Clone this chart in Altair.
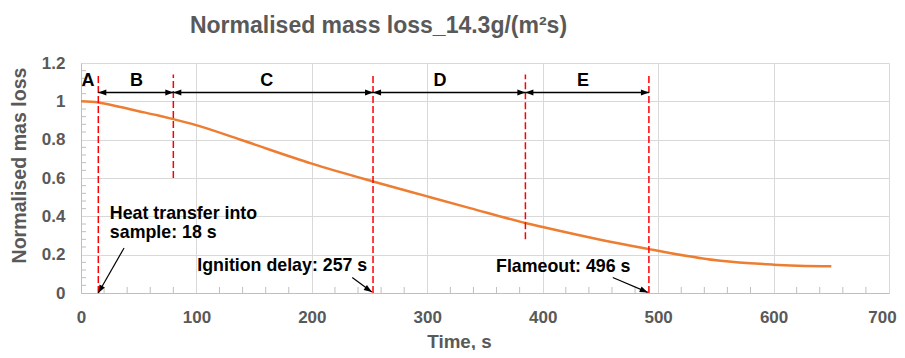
import altair as alt
import pandas as pd

# ---- data ----
time_s = [0, 15, 32, 49, 67, 80, 99, 139, 200, 253, 300, 337, 385, 400, 453, 492, 510, 554, 600, 650]
norm_mass = [1.0, 0.994, 0.973, 0.95, 0.926, 0.907, 0.877, 0.798, 0.675, 0.582, 0.504, 0.443,
             0.365, 0.344, 0.274, 0.229, 0.209, 0.168, 0.148, 0.139]

phase_bounds = [15, 80, 253, 385, 492]
phase_line_top = [1.14, 1.14, 1.14, 1.14, 1.14]
phase_line_bottom = [0, 0.6, 0, 0.28, 0]

seg_start = [15, 80, 253, 385]
seg_end = [80, 253, 385, 492]
seg_y = [1.046, 1.046, 1.046, 1.046]

phase_labels = ["A", "B", "C", "D", "E"]
phase_label_x = [6, 48, 161, 311, 435]
phase_label_y = [1.107, 1.107, 1.107, 1.107, 1.107]

note_text = ["Heat transfer into", "sample: 18 s", "Ignition delay: 257 s", "Flameout: 496 s"]
note_x = [25, 25, 248, 476]
note_y = [0.414, 0.313, 0.142, 0.136]
note_align = ["left", "left", "right", "right"]

ann_x0 = [37.3, 235, 460.7]
ann_y0 = [0.235, 0.081, 0.081]
ann_x1 = [15, 252, 491]
ann_y1 = [0.0, 0.005, 0.003]
ann_angle = [209, 124, 113]

title_text = ["Normalised mass loss_14.3g/(m²s)"]

x_ticks = [0, 100, 200, 300, 400, 500, 600, 700]
y_ticks = [0, 0.2, 0.4, 0.6, 0.8, 1.0, 1.2]
x_minor = [v for v in range(20, 700, 20) if v % 100 != 0]
y_minor = [round(0.04 * i, 2) for i in range(1, 30) if i % 5 != 0]

FONT = "Liberation Sans"
GREY = "#595959"
HEAD = "M0,0L-0.6,1.6L0.6,1.6Z"  # arrowhead, tip at origin, pointing up

W, H = 808, 230

xs = alt.Scale(domain=[0, 700], nice=False, zero=False)
ys = alt.Scale(domain=[0, 1.2], nice=False, zero=False)

x_axis = alt.Axis(values=x_ticks, grid=True, gridColor="#D9D9D9", domainColor="#BFBFBF",
                  ticks=False, labelPadding=16, labelFontSize=17, labelFont=FONT,
                  labelFontWeight="bold", labelColor=GREY, labelFlush=False, labelOverlap=False,
                  labelOffset=alt.condition("datum.value == 700", alt.value(-7), alt.value(0)),
                  title="Time, s",
                  titleFont=FONT, titleFontSize=18.8, titleFontWeight="bold", titleColor=GREY,
                  titleX=378, titleY=48, titleBaseline="middle", titleAlign="center")
y_axis = alt.Axis(values=y_ticks, format="~g", grid=True, gridColor="#D9D9D9",
                  domainColor="#BFBFBF", ticks=False, labelPadding=16, labelFontSize=17,
                  labelFont=FONT, labelFontWeight="bold", labelColor=GREY, labelFlush=False,
                  labelOverlap=False,
                  title="Normalised mas loss", titleFont=FONT, titleFontSize=19.6,
                  titleFontWeight="bold", titleColor=GREY, titleAngle=270,
                  titleX=-62, titleY=102, titleBaseline="middle", titleAlign="center")


def X(f):
    return alt.X(f, scale=xs, axis=x_axis)


def Y(f):
    return alt.Y(f, scale=ys, axis=y_axis)


curve_df = pd.DataFrame({"t": time_s, "m": norm_mass})
curve = alt.Chart(curve_df).mark_line(color="#ED7D31", strokeWidth=2.5, interpolate="monotone").encode(
    x=X("t:Q"), y=Y("m:Q"))

xminor = alt.Chart(pd.DataFrame({"v": x_minor})).mark_rule(color="#BFBFBF", strokeWidth=1).encode(
    x=X("v:Q"), y=alt.value(H), y2=alt.value(H - 6))
yminor = alt.Chart(pd.DataFrame({"v": y_minor})).mark_rule(color="#BFBFBF", strokeWidth=1).encode(
    y=Y("v:Q"), x=alt.value(0), x2=alt.value(5))

red_df = pd.DataFrame({"x": phase_bounds, "y0": phase_line_bottom, "y1": phase_line_top})
red = alt.Chart(red_df).mark_rule(color="#FF0000", strokeWidth=1.5, strokeDash=[7, 3]).encode(
    x=X("x:Q"), y=Y("y0:Q"), y2="y1:Q")

seg_df = pd.DataFrame({"x0": seg_start, "x1": seg_end, "y": seg_y})
seg = alt.Chart(seg_df).mark_rule(color="black", strokeWidth=1.5).encode(
    x=X("x0:Q"), x2="x1:Q", y=Y("y:Q"))
head_l = alt.Chart(seg_df).mark_point(shape=HEAD, filled=True, color="black", size=100,
                                      opacity=1, angle=270).encode(x=X("x0:Q"), y=Y("y:Q"))
head_r = alt.Chart(seg_df).mark_point(shape=HEAD, filled=True, color="black", size=100,
                                      opacity=1, angle=90).encode(x=X("x1:Q"), y=Y("y:Q"))

lab_df = pd.DataFrame({"x": phase_label_x, "y": phase_label_y, "t": phase_labels})
labels = alt.Chart(lab_df).mark_text(font=FONT, fontSize=18, fontWeight="bold", color="black",
                                     baseline="middle", align="center").encode(
    x=X("x:Q"), y=Y("y:Q"), text="t:N")

note_df = pd.DataFrame({"x": note_x, "y": note_y, "t": note_text, "a": note_align})
notes_l = alt.Chart(note_df[note_df.a == "left"]).mark_text(
    font=FONT, fontSize=17.8, fontWeight="bold", color="black", baseline="middle", align="left").encode(
    x=X("x:Q"), y=Y("y:Q"), text="t:N")
notes_r = alt.Chart(note_df[note_df.a == "right"]).mark_text(
    font=FONT, fontSize=17.8, fontWeight="bold", color="black", baseline="middle", align="right").encode(
    x=X("x:Q"), y=Y("y:Q"), text="t:N")

ann_df = pd.DataFrame({"x0": ann_x0, "y0": ann_y0, "x1": ann_x1, "y1": ann_y1, "ang": ann_angle})
ann_line = alt.Chart(ann_df).mark_rule(color="black", strokeWidth=1.2).encode(
    x=X("x0:Q"), y=Y("y0:Q"), x2="x1:Q", y2="y1:Q")
ann_head = alt.Chart(ann_df).mark_point(shape=HEAD, filled=True, color="black", size=100,
                                        opacity=1).encode(
    x=X("x1:Q"), y=Y("y1:Q"), angle=alt.Angle("ang:Q", scale=None))

title = alt.Chart(pd.DataFrame({"t": title_text})).mark_text(
    font=FONT, fontSize=23, fontWeight="bold", color=GREY, align="center",
    baseline="alphabetic").encode(text="t:N", x=alt.value(297.5), y=alt.value(-30))

chart = alt.layer(
    curve, xminor, yminor, red, seg, head_l, head_r, labels, notes_l, notes_r, ann_line, ann_head,
    title
).properties(
    width=W, height=H,
    autosize=alt.AutoSizeParams(type="none"),
    padding={"left": 73, "top": 55, "right": 8, "bottom": 57},
).configure_view(stroke=None).configure(background="white")

chart.save("out.html", embed_options={"renderer": "svg", "actions": False})
